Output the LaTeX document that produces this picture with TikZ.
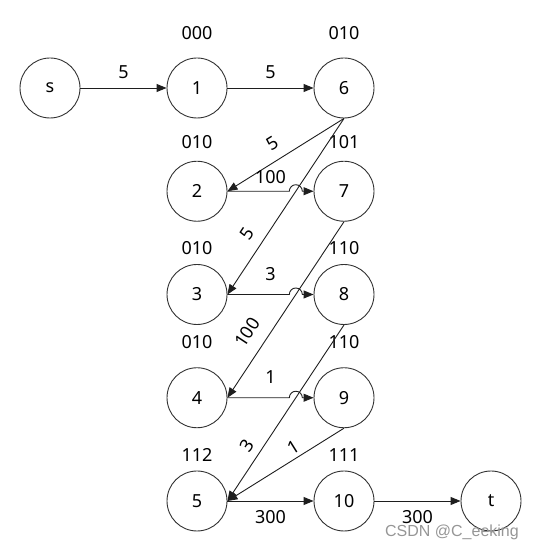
\documentclass[tikz,border=0pt]{standalone}
\usepackage{fontspec}
\setmainfont{Noto Sans}
\newfontfamily\wmfont{Liberation Sans}
\usetikzlibrary{arrows.meta,positioning,calc}
\definecolor{fledge}{RGB}{30,30,30}
\definecolor{flring}{RGB}{50,50,50}
\definecolor{flmark}{RGB}{150,150,150}
\tikzset{
  vtx/.style={
    circle, draw=flring, line width=0.9pt, minimum size=60pt,
    inner sep=0pt, font=\fontsize{18}{20}\selectfont
  },
  bits/.style={font=\fontsize{18}{20}\selectfont, inner sep=0pt},
  wlbl/.style={font=\fontsize{18}{20}\selectfont, inner sep=0pt},
  arr/.style={-{Triangle[length=10pt,width=8pt]}, draw=fledge, line width=0.9pt},
  wmark/.style={font=\wmfont\fontsize{16}{18}\selectfont, text=flmark}
}

\begin{document}
\begin{tikzpicture}[x=1pt, y=1pt, on grid, node distance=103.25pt and 147pt]
  \useasboundingbox (0,0) rectangle (536,551);

  \node[vtx] (s) at (50,463) {s};
  \node[vtx, right=of s] (n1) {1};
  \node[vtx, right=of n1] (n6) {6};
  \node[vtx, below=of n1] (n2) {2};
  \node[vtx, right=of n2] (n7) {7};
  \node[vtx, below=of n2] (n3) {3};
  \node[vtx, right=of n3] (n8) {8};
  \node[vtx, below=of n3] (n4) {4};
  \node[vtx, right=of n4] (n9) {9};
  \node[vtx, below=of n4] (n5) {5};
  \node[vtx, right=of n5] (n10) {10};
  \node[vtx, right=of n10] (t) {t};

  \node[bits, above=55pt of n1] (b1) {000};
  \node[bits, above=55pt of n6] (b6) {010};
  \node[bits, above=49pt of n2] (b2) {010};
  \node[bits, above=49pt of n7] (b7) {101};
  \node[bits, above=46pt of n3] (b3) {010};
  \node[bits, above=46pt of n8] (b8) {110};
  \node[bits, above=56pt of n4] (b4) {010};
  \node[bits, above=56pt of n9] (b9) {110};
  \node[bits, above=46pt of n5] (b5) {112};
  \node[bits, above=46pt of n10] (b10) {111};

  \draw[arr] (s) -- node[wlbl, above=9pt] (w1) {5} (n1);
  \draw[arr] (n1) -- node[wlbl, above=9pt] (w2) {5} (n6);
  \draw[arr] (n6.south) -- node[wlbl, sloped, pos=0.54, above=10pt] (w3) {5} (n2.east);
  \draw[arr] (n6.south) -- node[wlbl, sloped, pos=0.71, above=10.5pt] (w4) {5} (n3.east);
  \draw[arr] (n7.south) -- node[wlbl, sloped, pos=0.69, above=12.5pt] (w5) {100} (n4.east);
  \draw[arr] (n8.south) -- node[wlbl, sloped, pos=0.73, above=7pt] (w6) {3} (n5.east);
  \draw[arr] (n9.south) -- node[wlbl, sloped, pos=0.39, above=3.5pt] (w7) {1} (n5.east);

  \coordinate (h1) at (intersection of n2.east--n7.west and n6.south--n3.east);
  \coordinate (h2) at (intersection of n3.east--n8.west and n7.south--n4.east);
  \coordinate (h3) at (intersection of n4.east--n9.west and n8.south--n5.east);
  \draw[arr] (n2.east) -- ([xshift=-6.5pt]h1) arc[start angle=180, end angle=0, radius=6.5pt] -- (n7.west);
  \draw[arr] (n3.east) -- ([xshift=-6.5pt]h2) arc[start angle=180, end angle=0, radius=6.5pt] -- (n8.west);
  \draw[arr] (n4.east) -- ([xshift=-6.5pt]h3) arc[start angle=180, end angle=0, radius=6.5pt] -- (n9.west);
  \path (n2) -- node[wlbl, above=7pt] (w8) {100} (n7);
  \path (n3) -- node[wlbl, above=14pt] (w9) {3} (n8);
  \path (n4) -- node[wlbl, above=14pt] (w10) {1} (n9);

  \draw[arr] (n5) -- node[wlbl, below=9pt] (w11) {300} (n10);
  \draw[arr] (n10) -- node[wlbl, below=9pt] (w12) {300} (t);

  \node[wmark] (wm) at (452,19) {CSDN @C\_eeking};
\end{tikzpicture}
\end{document}
